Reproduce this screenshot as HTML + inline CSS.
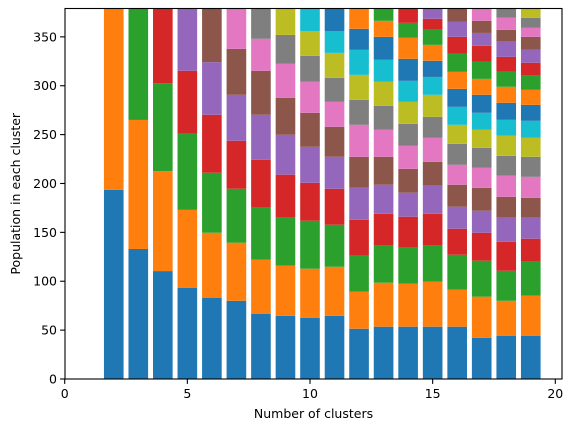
<!DOCTYPE html>
<html><head><meta charset="utf-8"><style>
body{margin:0;background:#fff;}
svg{display:block;font-family:"DejaVu Sans","Liberation Sans",sans-serif;}
</style></head><body>
<svg id="chart" width="573" height="432" viewBox="0 0 573 432" xmlns="http://www.w3.org/2000/svg"></svg>
<script>
const clusterCounts=[2,3,4,5,6,7,8,9,10,11,12,13,14,15,16,17,18,19];
// cumulative stack tops for each bar (last value reaches beyond axis top)
const stackTops=[
[193.6,400],
[133,265,400],
[110.4,212.7,302.7,400],
[93.4,173,250.8,315.3,400],
[83.2,149.6,211,270.3,324.1,400],
[80,139.4,194.6,243.7,290.7,337.7,400],
[66.8,122,175.2,224.3,270.3,315.3,348,400],
[64.7,115.9,165,209,249.8,287.7,322.4,352,400],
[62.7,112.8,161.9,200.7,237.5,272.3,304,330.6,356,400],
[64.7,114.8,157.8,194.6,227.3,258,283.5,308,333.6,356,400],
[51.4,89.3,126,162.9,195.6,227.3,260,285.6,311.1,336.7,358.2,400],
[53.5,98.5,136.3,169,198.7,227.3,254.9,279.5,304,326.5,350,366.4,400],
[53.5,97.5,134.3,166,190.5,215,238.5,261,283.5,305,327.5,349,364.3,400],
[53.5,99.5,136.3,169,197.7,222.2,246.7,268.2,290.7,309,325.5,341.8,357.2,368.5,400],
[53.5,91.3,127.1,153.7,176.2,198.7,219.1,240.6,260,278.4,296.8,314.2,332.6,350,365.3,400],
[42.2,84.2,121,149.6,172.1,195.6,216,236.5,254.9,272.3,290.7,307,324.4,340.8,354,366.4,400],
[44.3,80,110.7,140.4,165,186.4,207.9,228.3,248.8,265.1,282.5,298.9,314.2,329.5,345,357.2,369.5,400],
[44.3,85.2,119.9,143.5,165,185.4,206.8,227.3,246.7,264.1,280.4,295.8,310.2,323.5,336.7,350,359.2,369.5,400]
];
const xTicks=[0,5,10,15,20];
const yTicks=[0,50,100,150,200,250,300,350];
const colors=["#1f77b4","#ff7f0e","#2ca02c","#d62728","#9467bd","#8c564b","#e377c2","#7f7f7f","#bcbd22","#17becf"];
const L=65,R=562,T=8.5,B=379,yMax=379;
const FS=12.5;
const xs=v=>64.7+v*24.53;
const ys=v=>B-(v/yMax)*(B-T);
const svg=document.getElementById('chart');
const NS="http://www.w3.org/2000/svg";
function mk(tag,attrs){const e=document.createElementNS(NS,tag);for(const k in attrs)e.setAttribute(k,attrs[k]);svg.appendChild(e);return e;}
const cp=mk('clipPath',{id:'pc'});
const cr=document.createElementNS(NS,'rect');cp.appendChild(cr);
cr.setAttribute('x',L);cr.setAttribute('y',T);cr.setAttribute('width',R-L);cr.setAttribute('height',B-T);
const g=mk('g',{'clip-path':'url(#pc)'});


clusterCounts.forEach((k,i)=>{
  let prev=0;
  stackTops[i].forEach((top,j)=>{
    const r=document.createElementNS(NS,'rect');
    const x0=xs(k-0.4),x1=xs(k+0.4);
    r.setAttribute('x',x0);r.setAttribute('width',x1-x0);
    r.setAttribute('y',ys(top));r.setAttribute('height',ys(prev)-ys(top));
    r.setAttribute('fill',colors[j%10]);
    
    
    g.appendChild(r);prev=top;
  });
});
const frame=mk('rect',{x:L,y:T,width:R-L,height:B-T,fill:'none',stroke:'#000','stroke-width':1.1});


xTicks.forEach(v=>{
  const x=xs(v);
  mk('line',{x1:x,x2:x,y1:B,y2:B+4.9,stroke:'#000','stroke-width':1.1});
  const t=mk('text',{x:x,y:B+19,'text-anchor':'middle','font-size':FS,fill:'#000'});t.textContent=v;
  
  
});
yTicks.forEach(v=>{
  const y=ys(v);
  mk('line',{x1:L-4.9,x2:L,y1:y,y2:y,stroke:'#000','stroke-width':1.1});
  const t=mk('text',{x:L-8,y:y+4.5,'text-anchor':'end','font-size':FS,fill:'#000'});t.textContent=v;
  
  
});
const xl=mk('text',{x:(L+R)/2,y:418,'text-anchor':'middle','font-size':FS,fill:'#000'});xl.textContent='Number of clusters';


const yl=mk('text',{x:0,y:0,'text-anchor':'middle','font-size':FS,fill:'#000',transform:'translate(20,'+((T+B)/2)+') rotate(-90)'});yl.textContent='Population in each cluster';


</script>
</body></html>
